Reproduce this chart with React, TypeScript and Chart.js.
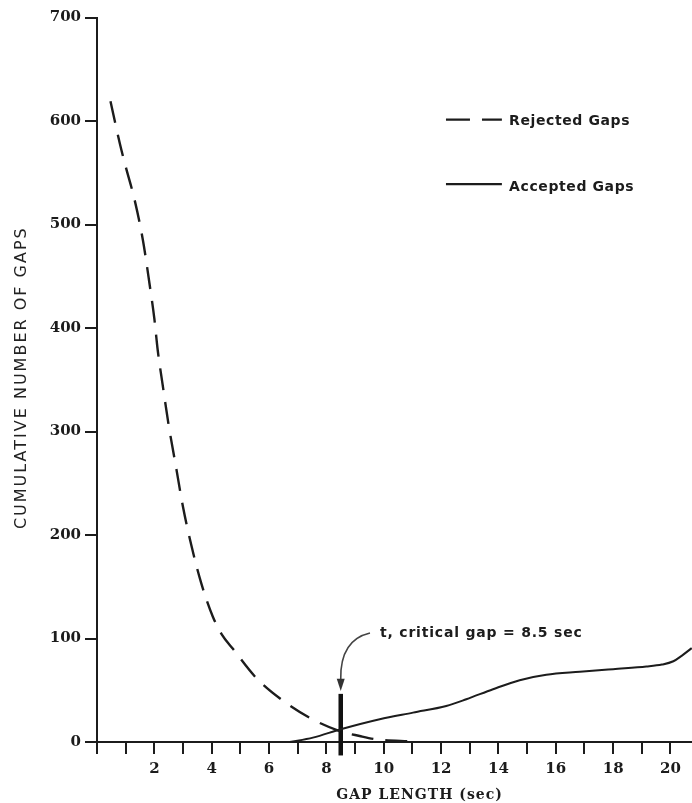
import React, { useEffect, useRef } from 'react';
import { Chart, registerables } from 'chart.js';

Chart.register(...registerables);

// ---- data ----
const rejectedX = [0.47, 0.79, 0.99, 1.31, 1.6, 1.83, 2.0, 2.12, 2.29, 2.5, 2.76, 3.0, 3.29, 3.64, 4.04, 4.35, 4.74, 5.55, 6.48, 7.41, 8.46, 9.16, 9.74, 11.0];
const rejectedY = [619, 579, 557, 524, 485, 443, 409, 378, 345, 306, 265, 227, 190, 153, 121, 104, 90, 62, 40, 23.5, 10.6, 5.8, 2.6, 0.5];

const acceptedX = [6.72, 7.53, 8.5, 9.86, 11.02, 12.18, 12.88, 13.81, 14.74, 15.67, 16.84, 18.0, 19.16, 19.7, 20.1, 20.4, 20.74];
const acceptedY = [0, 4.2, 12.3, 22, 28.4, 34.8, 41.3, 51, 59.7, 64.9, 67.8, 70.4, 72.9, 74.8, 78, 83.5, 90.7];

const criticalGap = 8.5;
const criticalBarY = [-13, 46.5];

const xTickLabels = [2, 4, 6, 8, 10, 12, 14, 16, 18, 20];
const yTickValues = [0, 100, 200, 300, 400, 500, 600, 700];

const seriesLabels = ['Rejected Gaps', 'Accepted Gaps'];
const annotationText = 't, critical gap = 8.5 sec';
const xTitle = 'GAP LENGTH (sec)';
const yTitle = 'CUMULATIVE NUMBER OF GAPS';

const INK = '#1c1c1c';

const overlayPlugin = {
  id: 'overlay',
  afterDraw(chart: any) {
    const { ctx, scales } = chart;
    const xs = scales.x;
    const ys = scales.y;
    const px = (v: number) => xs.getPixelForValue(v);
    const py = (v: number) => ys.getPixelForValue(v);
    ctx.save();

    // legend
    const lx0 = px(12.17);
    const lx1 = px(14.12);
    const ltx = px(14.37);
    ctx.strokeStyle = INK;
    ctx.lineWidth = 2.2;
    ctx.setLineDash([24, 12]);
    ctx.beginPath();
    ctx.moveTo(lx0, py(601.4));
    ctx.lineTo(lx1, py(601.4));
    ctx.stroke();
    ctx.setLineDash([]);
    ctx.beginPath();
    ctx.moveTo(lx0, py(539.1));
    ctx.lineTo(lx1, py(539.1));
    ctx.stroke();

    ctx.fillStyle = INK;
    ctx.font = 'bold 14px "DejaVu Sans"';
    (ctx as any).letterSpacing = '0.6px';
    ctx.textAlign = 'left';
    ctx.textBaseline = 'alphabetic';
    ctx.fillText(seriesLabels[0], ltx, py(596));
    ctx.fillText(seriesLabels[1], ltx, py(532.7));

    // annotation text
    (ctx as any).letterSpacing = '0.8px';
    ctx.fillText(annotationText, px(9.87), py(101.4));

    // curved arrow
    ctx.strokeStyle = '#444';
    ctx.lineWidth = 1.6;
    ctx.beginPath();
    ctx.moveTo(px(9.52), py(105.3));
    ctx.quadraticCurveTo(px(8.48), py(98.6), px(criticalGap), py(60.9));
    ctx.stroke();
    ctx.fillStyle = '#333';
    ctx.beginPath();
    ctx.moveTo(px(criticalGap), py(49.3));
    ctx.lineTo(px(criticalGap) - 4, py(61));
    ctx.lineTo(px(criticalGap) + 4, py(61));
    ctx.closePath();
    ctx.fill();

    // x title
    ctx.fillStyle = INK;
    ctx.font = 'bold 14px "DejaVu Serif"';
    (ctx as any).letterSpacing = '1px';
    ctx.textAlign = 'center';
    ctx.fillText(xTitle, px(11.25), chart.chartArea.bottom + 57);

    // y title
    ctx.font = '16px "DejaVu Sans"';
    (ctx as any).letterSpacing = '2px';
    ctx.translate(25.5, py(352));
    ctx.rotate(-Math.PI / 2);
    ctx.textAlign = 'center';
    ctx.fillStyle = '#222';
    ctx.fillText(yTitle, 0, 0);

    ctx.restore();
  },
};

export default function App() {
  const ref = useRef<HTMLCanvasElement | null>(null);

  useEffect(() => {
    if (!ref.current) return;
    const tickFont = { family: 'DejaVu Serif', weight: 'bold' as const, size: 15 };
    const chart = new Chart(ref.current, {
      type: 'line',
      data: {
        datasets: [
          {
            label: seriesLabels[0],
            data: rejectedX.map((x, i) => ({ x, y: rejectedY[i] })),
            borderColor: INK,
            borderWidth: 2.4,
            borderDash: [22, 12],
            pointRadius: 0,
            cubicInterpolationMode: 'monotone',
            fill: false,
          },
          {
            label: seriesLabels[1],
            data: acceptedX.map((x, i) => ({ x, y: acceptedY[i] })),
            borderColor: INK,
            borderWidth: 2,
            pointRadius: 0,
            cubicInterpolationMode: 'monotone',
            fill: false,
            clip: false,
          },
          {
            label: 'critical',
            data: criticalBarY.map((y) => ({ x: criticalGap, y })),
            borderColor: '#111',
            borderWidth: 4.5,
            pointRadius: 0,
            clip: false,
          },
        ],
      },
      options: {
        responsive: false,
        animation: false,
        devicePixelRatio: 1,
        layout: { padding: { top: 17.5, left: 0, right: 0, bottom: 0 } },
        plugins: {
          legend: { display: false },
          tooltip: { enabled: false },
          title: { display: false },
        },
        scales: {
          x: {
            type: 'linear',
            min: 0,
            max: 20.75,
            afterFit: (s: any) => {
              s.height = 61;
            },
            ticks: {
              stepSize: 1,
              includeBounds: false,
              autoSkip: false,
              maxRotation: 0,
              padding: 6,
              color: INK,
              font: tickFont,
              callback: (v: any) => (xTickLabels.includes(Number(v)) ? String(v) : ''),
            },
            grid: {
              drawOnChartArea: false,
              drawTicks: true,
              tickLength: 12,
              color: INK,
              lineWidth: 2,
            },
            border: { display: true, color: INK, width: 2 },
          },
          y: {
            type: 'linear',
            min: 0,
            max: 700,
            afterFit: (s: any) => {
              s.width = 97;
            },
            afterBuildTicks: (s: any) => {
              s.ticks = yTickValues.map((value) => ({ value }));
            },
            ticks: {
              stepSize: 100,
              padding: 4,
              color: INK,
              font: tickFont,
            },
            grid: {
              drawOnChartArea: false,
              drawTicks: true,
              tickLength: 12,
              color: INK,
              lineWidth: 2,
            },
            border: { display: true, color: INK, width: 2 },
          },
        },
      },
      plugins: [overlayPlugin],
    });
    return () => chart.destroy();
  }, []);

  return (
    <div style={{ position: 'fixed', left: 0, top: 0, width: 692, height: 803, background: '#fff' }}>
      <canvas ref={ref} width={692} height={803} style={{ display: 'block' }} />
    </div>
  );
}
